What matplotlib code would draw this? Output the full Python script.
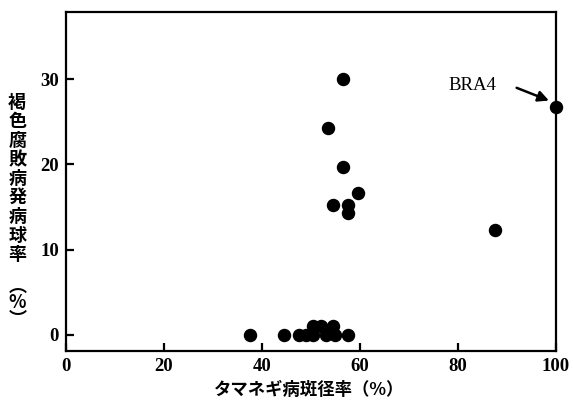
import matplotlib
matplotlib.use("Agg")
import matplotlib.pyplot as plt

# data
x_vals = [37.5, 44.5, 47.5, 49.0, 50.5, 53.0, 55.0, 57.5,
          50.5, 52.0, 54.5,
          56.5, 53.5, 56.5, 54.5, 57.5, 57.5, 59.6, 87.6, 100.0]
y_vals = [0, 0, 0, 0, 0, 0, 0, 0,
          1, 1, 1,
          30.0, 24.3, 19.7, 15.2, 15.2, 14.3, 16.6, 12.3, 26.8]
x_ticks = [0, 20, 40, 60, 80, 100]
y_ticks = [0, 10, 20, 30]
x_label = "タマネギ病斑径率（%）"
y_label_chars = list("褐色腐敗病発病球率")
annot = "BRA4"

fig = plt.figure(figsize=(5.73, 4.01), dpi=100)
ax = fig.add_axes([0.115, 0.125, 0.855, 0.845])
ax.scatter(x_vals, y_vals, s=75, color="black", zorder=3, clip_on=False)
ax.set_xlim(0, 100)
ax.set_ylim(-1.9, 37.9)
ax.set_xticks(x_ticks)
ax.set_yticks(y_ticks)
for s in ax.spines.values():
    s.set_linewidth(1.6)
ax.tick_params(direction="in", length=6, width=1.6, labelsize=13.5)
ax.tick_params(axis="x", pad=5)
ax.tick_params(axis="y", pad=5)
for lab in ax.get_xticklabels() + ax.get_yticklabels():
    lab.set_family("Liberation Serif")
    lab.set_fontweight("bold")

jp = ["Noto Sans CJK JP", "DejaVu Sans"]
fig.text(0.54, 0.005, x_label, ha="center", va="bottom", fontsize=12.5,
         family=jp, fontweight="bold")
fig.text(0.03, 0.555, "\n".join(y_label_chars), ha="center", va="center",
         fontsize=13, family=jp, fontweight="bold", linespacing=1.0)
fig.text(0.03, 0.245, "︵\n%\n︶", ha="center", va="center",
         fontsize=13, family=jp, fontweight="bold", linespacing=0.85)

ax.text(78.0, 29.3, annot, fontsize=13.5, family="Liberation Serif",
        va="center", ha="left")
ax.annotate("", xy=(98.6, 27.5), xytext=(92.0, 29.0),
            arrowprops=dict(arrowstyle="-|>", color="black", lw=1.8,
                            shrinkA=0, shrinkB=0, mutation_scale=16))

fig.savefig("out.png", dpi=100)
